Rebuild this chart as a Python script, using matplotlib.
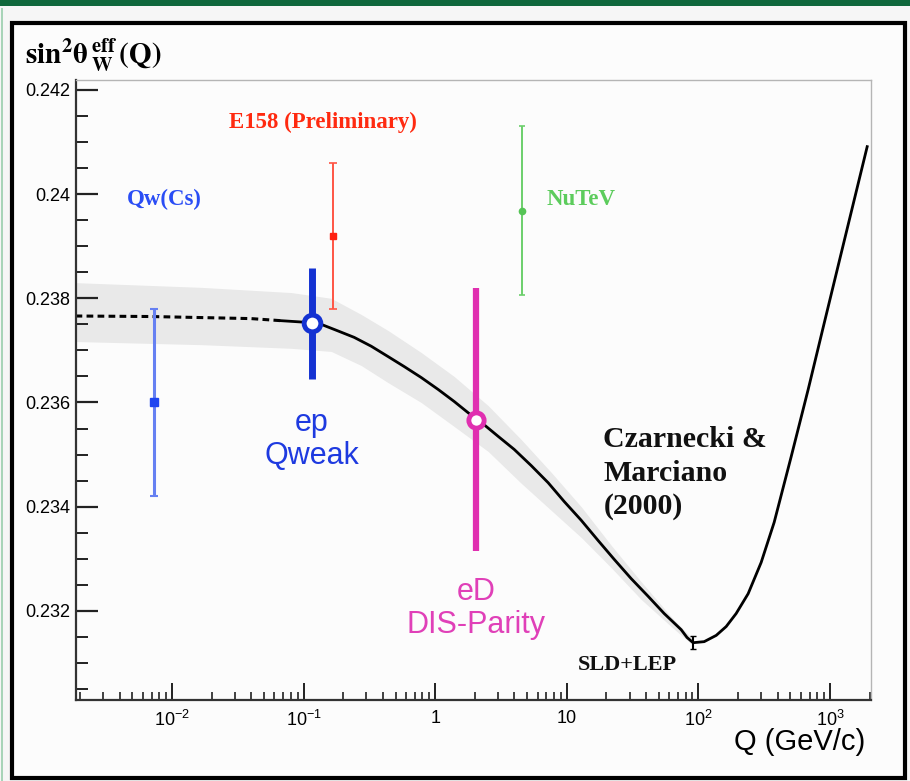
import numpy as np
import matplotlib
matplotlib.use('Agg')
import matplotlib.pyplot as plt
from matplotlib.patches import Rectangle
from matplotlib.ticker import LogLocator, MultipleLocator, NullFormatter

# Running sin^2(theta_W) prediction (Czarnecki & Marciano 2000), Q in GeV/c
curve_q = [0.00185, 0.00695, 0.01667, 0.0400, 0.0676, 0.1183, 0.1361, 0.1799, 0.2424,
           0.3266, 0.4395, 0.5813, 0.7826, 1.054, 1.394, 1.978, 2.236, 3.011, 3.984,
           5.363, 7.222, 9.555, 12.87, 17.32, 22.92, 30.86, 41.54, 54.97, 74.0,
           82.0, 91.2, 110.7, 136.6, 162.7, 193.7, 238.9, 300.0, 376.7, 507.3,
           683.0, 903.6, 1216, 1638, 1918]
curve_s = [0.23766, 0.23765, 0.23763, 0.23761, 0.23757, 0.23753, 0.23750, 0.23738, 0.23725,
           0.23708, 0.23688, 0.23669, 0.23648, 0.23625, 0.23602, 0.23571, 0.23562, 0.23535, 0.23510,
           0.23479, 0.23446, 0.23410, 0.23374, 0.23335, 0.23299, 0.23262, 0.23228, 0.23195, 0.23164,
           0.23149, 0.23139, 0.23141, 0.23153, 0.23170, 0.23195, 0.23233, 0.23293, 0.23370, 0.23496,
           0.23625, 0.23752, 0.23886, 0.24020, 0.24091]
dash_end = 0.07  # below this the curve is drawn dashed

# theory uncertainty band
band_q = [0.001864, 0.01667, 0.0805, 0.1621, 0.2740, 0.4395, 0.7826, 1.394, 2.528,
          4.504, 7.612, 12.87, 21.75, 36.76, 62.14, 88.2]
band_lo = [0.23717, 0.23711, 0.23704, 0.23698, 0.23671, 0.23638, 0.23600, 0.23554, 0.23506,
           0.23445, 0.23393, 0.23341, 0.23283, 0.23222, 0.23170, 0.23137]
band_hi = [0.23830, 0.23821, 0.23811, 0.23800, 0.23769, 0.23738, 0.23696, 0.23650, 0.23594,
           0.23529, 0.23466, 0.23400, 0.23326, 0.23256, 0.23189, 0.23149]

# measurements: Q, sin^2, error
cs_q, cs_s, cs_err = 0.0073, 0.2360, 0.0018
e158_q, e158_s, e158_err = 0.167, 0.2392, 0.0014
nutev_q, nutev_s, nutev_err = 4.56, 0.23968, 0.00162
qweak_q, qweak_s, qweak_err = 0.115, 0.23752, 0.00107
ed_q, ed_s, ed_err = 2.05, 0.23567, 0.00252
z_q, z_s, z_err = 91.2, 0.23139, 0.00012

xtick_vals = [1e-2, 1e-1, 1, 10, 1e2, 1e3]
xtick_labels = [r'$\mathregular{10^{-2}}$', r'$\mathregular{10^{-1}}$', '1', '10',
                r'$\mathregular{10^{2}}$', r'$\mathregular{10^{3}}$']
ytick_vals = [0.232, 0.234, 0.236, 0.238, 0.240, 0.242]
ytick_labels = ['0.232', '0.234', '0.236', '0.238', '0.24', '0.242']

plt.rcParams['font.family'] = ['Liberation Sans', 'DejaVu Sans']

fig = plt.figure(figsize=(9.1, 7.81), dpi=100, facecolor='#f6f6f6')

# slide decoration: green strip on top and the black frame
fig.add_artist(Rectangle((0, 0.9923), 1, 0.0077, transform=fig.transFigure,
                         facecolor='#10683c', edgecolor='none', zorder=0))
fig.add_artist(Rectangle((0.001, 0), 0.002, 0.99, transform=fig.transFigure,
                         facecolor='#a8d4b8', edgecolor='none', zorder=0))
fig.add_artist(Rectangle((0.0135, 0.004), 0.981, 0.967, transform=fig.transFigure,
                         facecolor='#fcfcfc', edgecolor='black', lw=3, zorder=0))

ax = fig.add_axes([0.0835, 0.1037, 0.8736, 0.7939])
ax.set_facecolor('#fcfcfc')
ax.set_xscale('log')
ax.set_xlim(0.001864, 2049)
ax.set_ylim(0.23029, 0.24219)

ax.fill_between(band_q, band_lo, band_hi, color='#e9e9e9', lw=0, zorder=1)

q = np.array(curve_q)
s = np.array(curve_s)
n_dash = int((q <= dash_end).sum())
ax.plot(q[:n_dash], s[:n_dash], color='black', lw=2.2, ls=(0, (2.2, 1.4)), zorder=2)
ax.plot(q[n_dash - 1:], s[n_dash - 1:], color='black', lw=2.0, zorder=2,
        solid_joinstyle='round')

# small experiments
ax.errorbar(cs_q, cs_s, yerr=cs_err, fmt='s', color='#6680f2', mfc='#1f45f0', mec='#1f45f0',
            ms=5.5, elinewidth=2.2, capsize=3, capthick=1.5, zorder=3)
ax.errorbar(e158_q, e158_s, yerr=e158_err, fmt='s', color='#ff5545', mfc='#ff2010', mec='#ff2010',
            ms=5, elinewidth=1.4, capsize=3, capthick=1.2, zorder=3)
ax.errorbar(nutev_q, nutev_s, yerr=nutev_err, fmt='o', color='#6ccf6c', mfc='#55c455', mec='#55c455',
            ms=4.5, elinewidth=1.4, capsize=2.5, capthick=1.2, zorder=3)
ax.errorbar(z_q, z_s, yerr=z_err, fmt='none', color='black', elinewidth=1.5, capsize=2, zorder=3)

# proposed measurements
ax.errorbar(qweak_q, qweak_s, yerr=qweak_err, fmt='o', color='#1432d2', mfc='white', mec='#1432d2',
            ms=12, mew=3.5, elinewidth=5, zorder=4)
ax.errorbar(ed_q, ed_s, yerr=ed_err, fmt='o', color='#e02fb0', mfc='white', mec='#e02fb0',
            ms=11, mew=3.5, elinewidth=4.5, zorder=4)

serif = 'Liberation Serif'
ax.text(0.0087, 0.2399, 'Qw(Cs)', color='#2a4df5', fontsize=16.5, family=serif,
        weight='bold', ha='center', va='center')
ax.text(0.141, 0.24137, 'E158 (Preliminary)', color='#ff2a10', fontsize=16.5, family=serif,
        weight='bold', ha='center', va='center')
ax.text(12.9, 0.2399, 'NuTeV', color='#5ccc5c', fontsize=16.5, family=serif,
        weight='bold', ha='center', va='center')
ax.text(19.0, 0.23464, 'Czarnecki &\nMarciano\n(2000)', color='#111111', fontsize=21.5,
        family=serif, weight='bold', ha='left', va='center', linespacing=1.3)
ax.text(28.8, 0.23097, 'SLD+LEP', color='#111111', fontsize=16, family=serif,
        weight='bold', ha='center', va='center')
ax.text(qweak_q, 0.23529, 'ep\nQweak', color='#1e3ae0', fontsize=22,
        ha='center', va='center', linespacing=1.15)
ax.text(ed_q, 0.23205, 'eD\nDIS-Parity', color='#e040b8', fontsize=22,
        ha='center', va='center', linespacing=1.15)

# axes styling
for side in ['left', 'bottom']:
    ax.spines[side].set_color('#333333')
    ax.spines[side].set_linewidth(1.6)
for side in ['top', 'right']:
    ax.spines[side].set_color('#b5b5b5')
    ax.spines[side].set_linewidth(1.0)

ax.set_xticks(xtick_vals, xtick_labels, fontsize=13)
ax.xaxis.set_minor_locator(LogLocator(base=10, subs=np.arange(2, 10), numticks=30))
ax.xaxis.set_minor_formatter(NullFormatter())
ax.set_yticks(ytick_vals, ytick_labels, fontsize=13)
ax.yaxis.set_minor_locator(MultipleLocator(0.0005))

ax.tick_params(which='both', direction='in', top=False, right=False, color='#222222')
ax.tick_params(axis='y', which='major', length=16, width=1.6, pad=4)
ax.tick_params(axis='y', which='minor', length=8.5, width=1.4)
ax.tick_params(axis='x', which='major', length=12, width=1.4, pad=7)
ax.tick_params(axis='x', which='minor', length=6, width=1.2)

fig.text(0.027, 0.918, r'$\mathbf{sin^{2}\theta\,{}^{eff}_{W}\,(Q)}$', fontsize=21,
         math_fontfamily='stix', ha='left', va='baseline')
fig.text(0.951, 0.050, 'Q (GeV/c)', fontsize=21, ha='right', va='center')

fig.savefig('out.png', dpi=100, facecolor=fig.get_facecolor())
